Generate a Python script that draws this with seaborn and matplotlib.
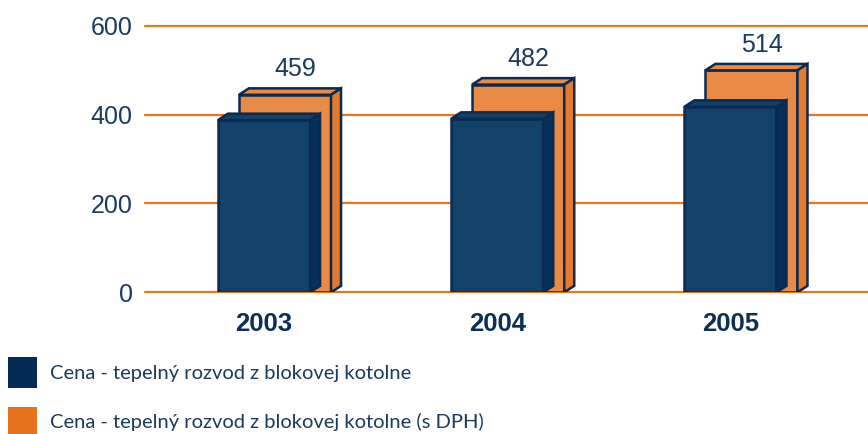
import matplotlib
matplotlib.use("Agg")
import matplotlib.pyplot as plt
from matplotlib.patches import Polygon, Patch
import seaborn as sns
import pandas as pd

# data
years = ["2003", "2004", "2005"]
cena = [402, 405, 432]
cena_dph = [459, 482, 514]
series = ["Cena - tepelný rozvod z blokovej kotolne",
          "Cena - tepelný rozvod z blokovej kotolne (s DPH)"]
yticks = [0, 200, 400, 600]

navy = "#124169"
navy_side = "#062F5A"
edge = "#0A2A50"
orange = "#E98A45"
orange_side = "#E47A2D"
grid_orange = "#E87722"
text_navy = "#1C3A5E"

sns.set_theme(style="white")
plt.rcParams["font.family"] = ["Lato", "DejaVu Sans"]

fig = plt.figure(figsize=(8.68, 4.34), dpi=100)
ax = fig.add_axes([145 / 868, 1 - 292.3 / 434, 1 - 145 / 868, (292.3 - 25.7) / 434])

w = 0.395      # bar width (category units)
shift = 0.09   # orange bar sits behind and to the right
dx = 0.043     # 3d depth, x
dy = 14.5      # 3d depth, y (value units)

df = pd.DataFrame({"pos": range(len(years)), "cena": cena, "dph": cena_dph})
df["pos_dph"] = df["pos"] + shift


def extrude(bars, face, side, z):
    for p in bars.patches:
        x, wd, h = p.get_x(), p.get_width(), p.get_height()
        p.set_height(h - dy)
        p.set_zorder(z)
        top = Polygon([(x, h - dy), (x + dx, h), (x + wd + dx, h), (x + wd, h - dy)],
                      closed=True, fc=face, ec=edge, lw=1.8, zorder=z)
        rs = Polygon([(x + wd, 0), (x + wd, h - dy), (x + wd + dx, h), (x + wd + dx, dy)],
                     closed=True, fc=side, ec=edge, lw=1.8, zorder=z)
        ax.add_patch(top)
        ax.add_patch(rs)


sns.barplot(data=df, x="pos_dph", y="dph", native_scale=True, width=w,
            color=orange, saturation=1, edgecolor=edge, linewidth=1.8, ax=ax)
extrude(ax.containers[0], orange, orange_side, 2)

sns.barplot(data=df, x="pos", y="cena", native_scale=True, width=w,
            color=navy, saturation=1, edgecolor=edge, linewidth=1.8, ax=ax)
extrude(ax.containers[1], navy, navy_side, 3)

for p, v in zip(ax.containers[0].patches, cena_dph):
    ax.text(p.get_x() + p.get_width() / 2 + dx, v + 27, str(v), ha="center",
            va="baseline", fontsize=18, color=text_navy, family="Liberation Sans")

for t in yticks:
    ax.axhline(t, color=grid_orange, lw=1.6, zorder=1, clip_on=False)

ax.set_xlim(-0.51, 2.59)
ax.set_ylim(0, 600)
ax.set_yticks(yticks)
ax.set_yticklabels([str(t) for t in yticks], fontsize=18, color=text_navy,
                   family="Liberation Sans")
ax.set_xticks(range(len(years)))
ax.set_xticklabels(years, fontsize=18.5, fontweight="bold", color="#0D2E57",
                   family="Liberation Sans")
ax.tick_params(axis="y", length=0, pad=9)
ax.tick_params(axis="x", length=0, pad=14)
ax.set_xlabel("")
ax.set_ylabel("")
ax.grid(False)
for s in ax.spines.values():
    s.set_visible(False)

handles = [Patch(fc="#032B55", ec="none"), Patch(fc="#E8731F", ec="none")]
fig.legend(handles, series, loc="upper left", bbox_to_anchor=(-0.007, 1 - 343 / 434),
           frameon=False, fontsize=14.5, labelcolor=text_navy,
           handlelength=1.45, handleheight=1.95, handletextpad=0.65,
           labelspacing=0.95, borderaxespad=0.3)

fig.savefig("out.png", dpi=100)
